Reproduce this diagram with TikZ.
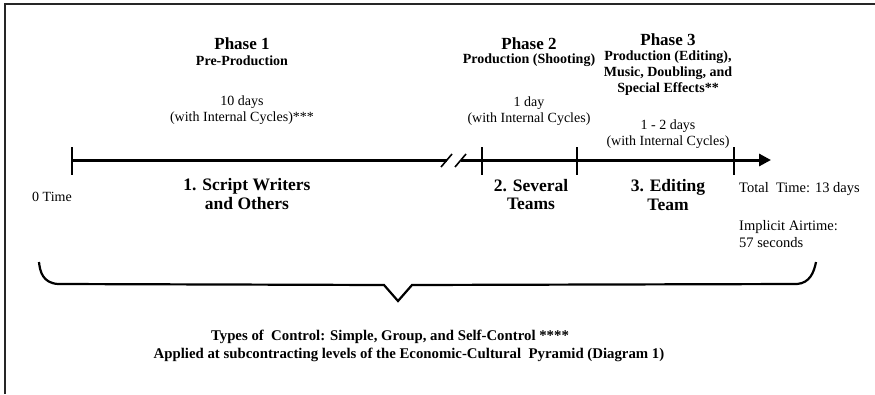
\documentclass[tikz,border=0pt]{standalone}
\usepackage{fontspec}
\setmainfont{Liberation Serif}
\usetikzlibrary{arrows.meta}
\begin{document}
\begin{tikzpicture}[x=1pt,y=-1pt,
  frame/.style={line width=2pt,draw=black!85},
  tl/.style={line width=3pt,draw=black},
  tick/.style={line width=2.5pt,draw=black},
  brk/.style={line width=1.6pt,draw=black},
  ptitle/.style={font=\fontsize{17}{19}\selectfont\bfseries,inner sep=0pt},
  psub/.style={font=\fontsize{14}{16}\selectfont\bfseries,inner sep=0pt},
  dur/.style={font=\fontsize{14}{16}\selectfont,inner sep=0pt},
  team/.style={font=\fontsize{17.5}{19}\selectfont\bfseries,inner sep=0pt},
  side/.style={font=\fontsize{14.5}{16}\selectfont,inner sep=0pt,anchor=west},
  foot/.style={font=\fontsize{14.8}{17}\selectfont\bfseries,inner sep=0pt},
  brace/.style={line width=2.2pt,draw=black}]
\useasboundingbox (0,0) rectangle (875,394);
\draw[frame] (5,394) -- (5,4) -- (875,4);

% Phase titles
\node[ptitle] (ph1) at (242,44) {Phase 1};
\node[psub] (ph1s) at (242,61) {Pre-Production};
\node[ptitle] (ph2) at (529,44) {Phase 2};
\node[psub] (ph2s) at (529,60) {Production (Shooting)};
\node[ptitle] (ph3) at (668,40) {Phase 3};
\node[psub] (ph3a) at (668,57) {Production (Editing),};
\node[psub] (ph3b) at (668,73) {Music, Doubling, and};
\node[psub] (ph3c) at (668,89) {Special Effects**};

% Durations
\node[dur] (d1a) at (242,102) {10 days};
\node[dur] (d1b) at (242,118) {(with Internal Cycles)***};
\node[dur] (d2a) at (529,103) {1 day};
\node[dur] (d2b) at (529,119) {(with Internal Cycles)};
\node[dur] (d3a) at (668,126) {1 - 2 days};
\node[dur] (d3b) at (668,142) {(with Internal Cycles)};

% Timeline
\coordinate (t0) at (72,160);
\coordinate (b1) at (447,160);
\coordinate (b2) at (461,160);
\coordinate (tend) at (771,160);
\draw[tl] (t0) -- (b1);
\draw[tl,-{Triangle[length=12pt,width=12pt]}] (b2) -- (tend);
\draw[brk] (441,167) -- (452,154);
\draw[brk] (455,167) -- (466,154);
\draw[tick] (72,147) -- (72,175);
\draw[tick] (482,147) -- (482,175);
\draw[tick] (577,147) -- (577,175);
\draw[tick] (734,147) -- (734,175);

% Labels under the timeline
\node[dur] (zero) at (52,197) {0 Time};
\node[team] (s1a) at (247,186) {1. Script Writers};
\node[team] (s1b) at (247,204) {and Others};
\node[team] (s2a) at (531,186) {2. Several};
\node[team] (s2b) at (531,204) {Teams};
\node[team] (s3a) at (668,187) {3. Editing};
\node[team] (s3b) at (668,205) {Team};
\node[side] (tot) at (739,189) {Total\ \ Time: 13 days};
\node[side] (imp) at (739,227) {Implicit Airtime:};
\node[side] (sec) at (739,243) {57 seconds};

% Brace
\coordinate (bl) at (39,262);
\coordinate (br) at (816,262);
\coordinate (tip) at (398,301);
\draw[brace,line join=miter] (bl) .. controls (40,272) and (43,283) .. (58,284)
  -- (384,285) -- (tip) -- (412,285) -- (797,284)
  .. controls (810,283) and (814,272) .. (br);

% Footer
\node[foot] (f1) at (390,337) {Types of\ \ Control: Simple, Group, and Self-Control ****};
\node[foot] (f2) at (409,355) {Applied at subcontracting levels of the Economic-Cultural\ \ Pyramid (Diagram 1)};
\end{tikzpicture}
\end{document}
